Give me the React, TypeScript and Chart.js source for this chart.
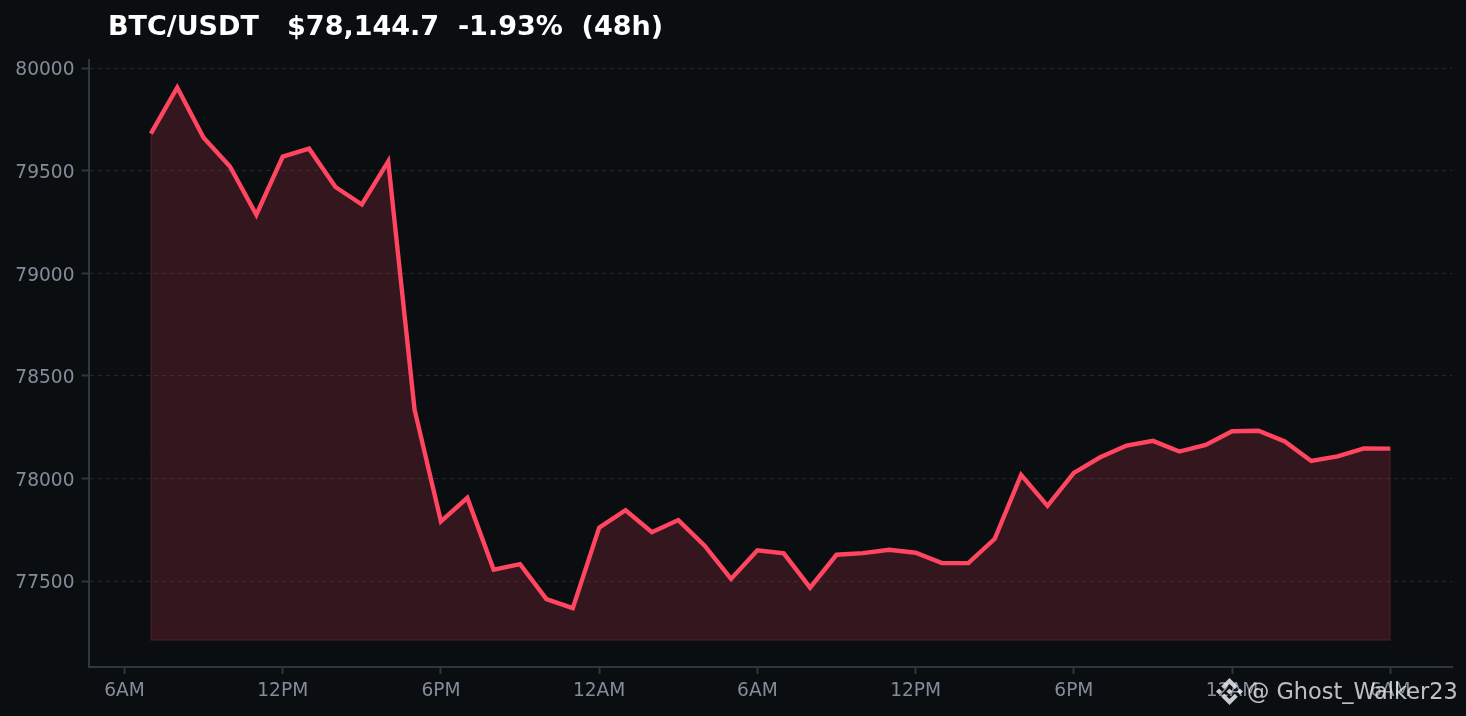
import React, { useEffect, useRef } from "react";
import { Chart, registerables } from "chart.js";

Chart.register(...registerables);

const titleText = "BTC/USDT\u00a0\u00a0\u00a0$78,144.7\u00a0\u00a0-1.93%\u00a0\u00a0(48h)";
const watermark = "@ Ghost_Walker23";
const tickLabels = ["6AM", "12PM", "6PM", "12AM", "6AM", "12PM", "6PM", "12AM", "6AM"];
const hours = [
  1, 2, 3, 4, 5, 6, 7, 8, 9, 10, 11, 12, 13, 14, 15, 16, 17, 18, 19, 20, 21, 22, 23, 24,
  25, 26, 27, 28, 29, 30, 31, 32, 33, 34, 35, 36, 37, 38, 39, 40, 41, 42, 43, 44, 45, 46, 47, 48,
];
const prices = [
  79680, 79905, 79660, 79520, 79285, 79568, 79607, 79420, 79335, 79545, 78335, 77790,
  77905, 77555, 77582, 77412, 77368, 77760, 77845, 77738, 77797, 77672, 77510, 77650,
  77635, 77468, 77628, 77636, 77652, 77638, 77588, 77587, 77706, 78017, 77866, 78027,
  78103, 78160, 78183, 78131, 78163, 78230, 78232, 78180, 78085, 78107, 78146, 78145,
];
const baseValue = 77212;

const font = "'DejaVu Sans', sans-serif";
const axisColor = "#30363e";
const labelColor = "#848c99";

export default function App() {
  const ref = useRef<HTMLCanvasElement>(null);
  useEffect(() => {
    document.body.style.margin = "0";
    document.body.style.background = "#0b0e11";
    const last = hours.length - 1;
    const chart = new Chart(ref.current!, {
      type: "line",
      data: {
        datasets: [
          {
            data: [
              { x: hours[0], y: prices[0] },
              { x: hours[0], y: baseValue },
              { x: hours[last], y: baseValue },
              { x: hours[last], y: prices[last] },
            ],
            borderColor: "rgba(246,70,93,0.18)",
            borderWidth: 1.2,
            pointRadius: 0,
            fill: false,
          },
          {
            data: hours.map((h, i) => ({ x: h, y: prices[i] })),
            borderColor: "#ff4560",
            borderWidth: 4.4,
            pointRadius: 0,
            tension: 0,
            borderJoinStyle: "miter",
            fill: { value: baseValue },
            backgroundColor: "rgba(255,69,96,0.17)",
          },
        ],
      },
      options: {
        animation: false,
        responsive: false,
        devicePixelRatio: 1,
        layout: { padding: { top: 60, right: 14, left: 0, bottom: 0 } },
        plugins: { legend: { display: false }, tooltip: { enabled: false } },
        scales: {
          x: {
            type: "linear",
            min: -1.365,
            max: 50.34,
            afterFit: (s: any) => { s.height = 49; },
            afterBuildTicks: (s: any) => { s.ticks = tickLabels.map((_, i) => ({ value: i * 6 })); },
            ticks: {
              autoSkip: false,
              maxRotation: 0,
              padding: 6,
              color: labelColor,
              font: { family: font, size: 18.6 },
              callback: (v: any) => tickLabels[Number(v) / 6],
            },
            grid: { drawOnChartArea: false, tickLength: 7, tickColor: axisColor, tickWidth: 2 },
            border: { color: axisColor, width: 2 },
          },
          y: {
            type: "linear",
            min: 77081,
            max: 80039,
            afterFit: (s: any) => {
              s.width = 88.5;
              const compute = s._computeLabelItems;
              s._computeLabelItems = function (area: any) {
                const items = compute.call(this, area);
                items.forEach((item: any) => { item.textOffset += 1.3; });
                return items;
              };
            },
            afterBuildTicks: (s: any) => {
              s.ticks = [77500, 78000, 78500, 79000, 79500, 80000].map((value) => ({ value }));
            },
            ticks: {
              padding: 7,
              color: labelColor,
              font: { family: font, size: 18.6 },
              callback: (v: any) => String(v),
            },
            grid: { color: "#22272e", lineWidth: 1, tickLength: 7, tickColor: axisColor, tickWidth: 2 },
            border: { color: axisColor, width: 2, dash: [4, 4] },
          },
        },
      },
    });
    return () => chart.destroy();
  }, []);

  return (
    <div style={{ position: "relative", width: 1466, height: 716, background: "#0b0e11", overflow: "hidden" }}>
      <canvas ref={ref} width={1466} height={716} style={{ display: "block", width: 1466, height: 716 }} />
      <div style={{ position: "absolute", left: 108, top: 9, color: "#fff", fontFamily: font, fontWeight: 700, fontSize: 27, lineHeight: "34px", whiteSpace: "pre" }}>
        {titleText}
      </div>
      <div style={{ position: "absolute", left: 1216, top: 676, display: "flex", alignItems: "center", color: "rgba(234,236,239,0.8)", fontFamily: font, fontSize: 22.4, lineHeight: "30px", whiteSpace: "pre" }}>
        <svg width="27" height="27" viewBox="0 0 126.61 126.61" style={{ marginRight: 4 }}>
          <g fill="rgba(234,236,239,0.85)">
            <path d="m38.73 53.2 24.59-24.58 24.6 24.6 14.3-14.31L63.32 0 24.43 38.9z" />
            <path d="m0 63.31 14.3-14.31 14.31 14.31-14.31 14.3z" />
            <path d="m38.73 73.41 24.59 24.59 24.6-24.6 14.31 14.29-38.9 38.91-38.91-38.88z" />
            <path d="m98 63.31 14.3-14.31 14.31 14.3-14.31 14.32z" />
            <path d="m77.83 63.3-14.51-14.52-14.52 14.52 14.51 14.5z" />
          </g>
        </svg>
        <span>{watermark}</span>
      </div>
    </div>
  );
}
